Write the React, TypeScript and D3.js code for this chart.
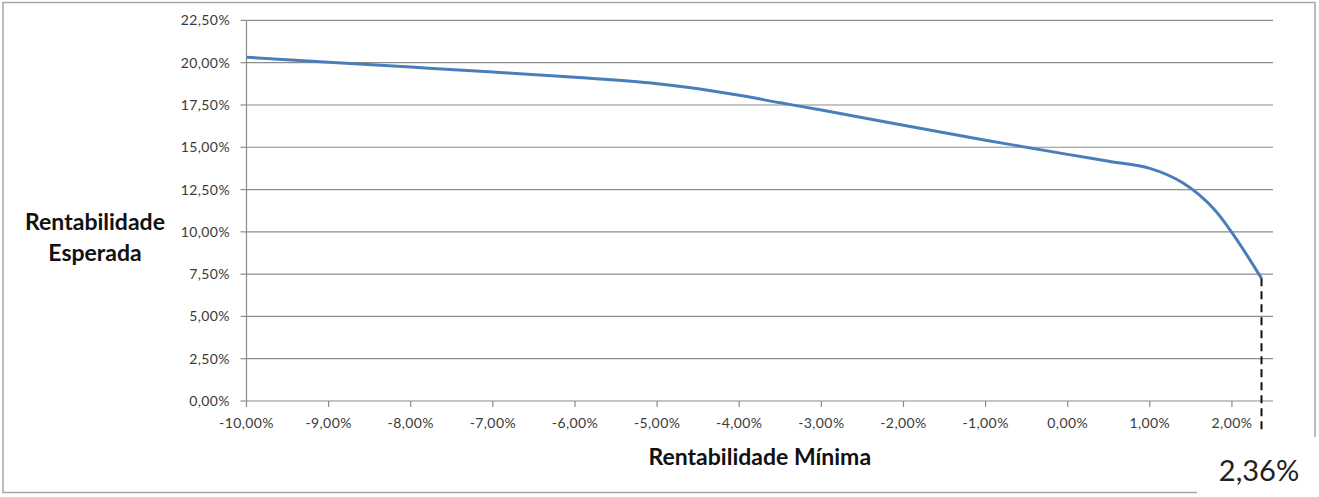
import React from "react";
import * as d3 from "d3";

// Data
const minReturn: number[] = [-10, -9, -8, -7, -6, -5, -4.5, -4, -3.5, -3, -2, -1, 0, 0.5, 1, 1.4, 1.78, 2.36];
const expectedReturn: number[] = [20.32, 20.03, 19.74, 19.45, 19.14, 18.76, 18.46, 18.07, 17.63, 17.2, 16.3, 15.42, 14.58, 14.17, 13.75, 12.9, 11.35, 7.25];
const xTicks: number[] = [-10, -9, -8, -7, -6, -5, -4, -3, -2, -1, 0, 1, 2];
const yTicks: number[] = [0, 2.5, 5, 7.5, 10, 12.5, 15, 17.5, 20, 22.5];
const markerValue = 2.36;
const markerLabel = "2,36%";
const xTitle = "Rentabilidade Mínima";
const yTitleLines = ["Rentabilidade", "Esperada"];

const W = 1319;
const H = 497;
const plot = { left: 246.5, right: 1273, top: 20.4, bottom: 401 };

const fmt = (v: number) => v.toFixed(2).replace(".", ",") + "%";

export default function App() {
  const x = d3.scaleLinear().domain([-10, 2.5]).range([plot.left, plot.right]);
  const y = d3.scaleLinear().domain([0, 22.5]).range([plot.bottom, plot.top]);
  const pts: [number, number][] = minReturn.map((v, i) => [v, expectedReturn[i]]);
  const line = d3
    .line<[number, number]>()
    .x((d) => x(d[0]))
    .y((d) => y(d[1]))
    .curve(d3.curveCatmullRom.alpha(0.5));
  const lastY = expectedReturn[expectedReturn.length - 1];
  const font = "Lato, 'Open Sans', sans-serif";

  return (
    <svg
      width={W}
      height={H}
      style={{ position: "absolute", left: 0, top: 0, background: "#fff" }}
      fontFamily={font}
    >
      <rect x={0} y={0} width={W} height={H} fill="#fff" />
      {/* outer frame */}
      <rect x={3} y={2.5} width={1312} height={490} fill="none" stroke="#a6a6a6" strokeWidth={1.5} />
      {/* gridlines */}
      {yTicks.map((t) => (
        <line key={"g" + t} x1={plot.left} x2={plot.right} y1={y(t)} y2={y(t)} stroke="#8c8c8c" strokeWidth={1.2} />
      ))}
      {/* y axis */}
      <line x1={plot.left} x2={plot.left} y1={plot.top} y2={plot.bottom} stroke="#8c8c8c" strokeWidth={1.2} />
      {yTicks.map((t) => (
        <g key={"yt" + t}>
          <line x1={plot.left - 6} x2={plot.left} y1={y(t)} y2={y(t)} stroke="#8c8c8c" strokeWidth={1.2} />
          <text x={230} y={y(t) + 5} textAnchor="end" fontSize={14} fill="#3a3a3a" letterSpacing={0.4}>
            {fmt(t)}
          </text>
        </g>
      ))}
      {/* x axis ticks */}
      {xTicks.map((t) => (
        <g key={"xt" + t}>
          <line x1={x(t)} x2={x(t)} y1={plot.bottom} y2={plot.bottom + 6} stroke="#8c8c8c" strokeWidth={1.2} />
          <text x={x(t)} y={428} textAnchor="middle" fontSize={14} fill="#3a3a3a" letterSpacing={0.4}>
            {fmt(t)}
          </text>
        </g>
      ))}
      {/* series */}
      <path d={line(pts) || ""} fill="none" stroke="#4a7ebb" strokeWidth={3} strokeLinejoin="round" />
      {/* dashed marker */}
      <line
        x1={x(markerValue)}
        x2={x(markerValue)}
        y1={y(lastY)}
        y2={432}
        stroke="#111"
        strokeWidth={2}
        strokeDasharray="8,5"
      />
      {/* titles */}
      <text x={(plot.left + plot.right) / 2} y={465} textAnchor="middle" fontSize={23} fontWeight="bold" fill="#111">
        {xTitle}
      </text>
      {yTitleLines.map((s, i) => (
        <text key={s} x={95} y={230 + i * 31} textAnchor="middle" fontSize={23} fontWeight="bold" fill="#111">
          {s}
        </text>
      ))}
      {/* label box */}
      <rect x={1197} y={437} width={122} height={60} fill="#fff" />
      <text x={1259} y={481} textAnchor="middle" fontSize={29} fill="#222">
        {markerLabel}
      </text>
    </svg>
  );
}
